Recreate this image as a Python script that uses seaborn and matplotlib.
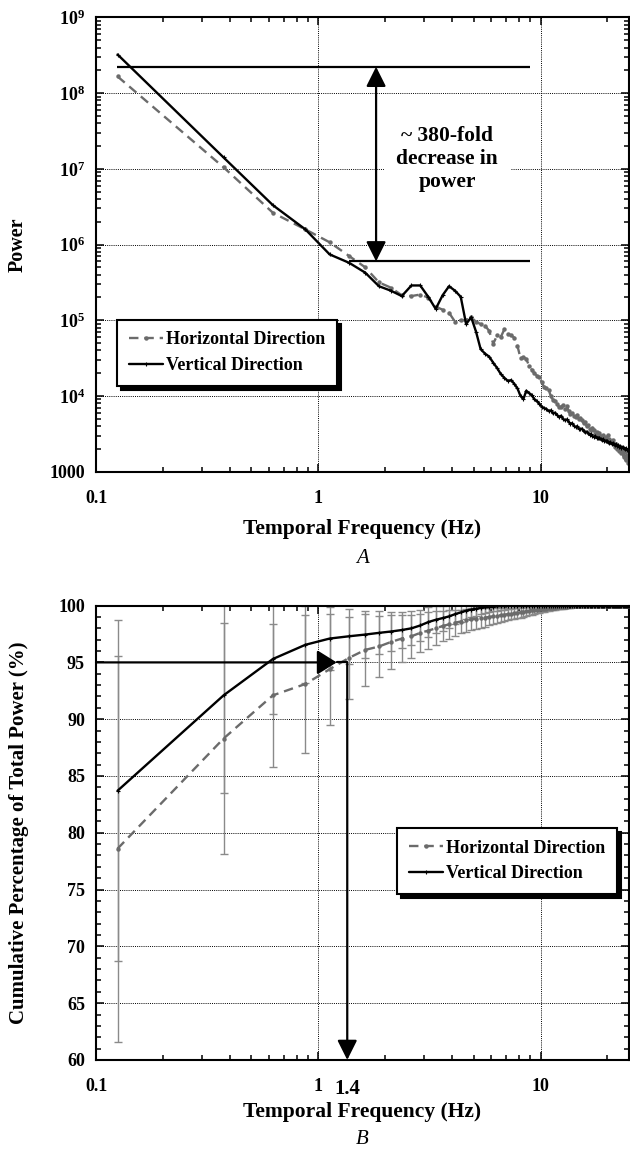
import matplotlib
matplotlib.use('Agg')
import matplotlib.pyplot as plt
import matplotlib.transforms as mtransforms
from matplotlib.ticker import LogLocator, MultipleLocator, FuncFormatter, NullFormatter, FixedLocator
import seaborn as sns
import numpy as np

# frequency bins (Hz), 0.25 Hz spacing
freq_hz = [0.125, 0.375, 0.625, 0.875, 1.125, 1.375, 1.625, 1.875, 2.125, 2.375,
           2.625, 2.875, 3.125, 3.375, 3.625, 3.875, 4.125, 4.375, 4.625, 4.875,
           5.125, 5.375, 5.625, 5.875, 6.125, 6.375, 6.625, 6.875, 7.125, 7.375,
           7.625, 7.875, 8.125, 8.375, 8.625, 8.875, 9.125, 9.375, 9.625, 9.875,
           10.125, 10.375, 10.625, 10.875, 11.125, 11.375, 11.625, 11.875, 12.125, 12.375,
           12.625, 12.875, 13.125, 13.375, 13.625, 13.875, 14.125, 14.375, 14.625, 14.875,
           15.125, 15.375, 15.625, 15.875, 16.125, 16.375, 16.625, 16.875, 17.125, 17.375,
           17.625, 17.875, 18.125, 18.375, 18.625, 18.875, 19.125, 19.375, 19.625, 19.875,
           20.125, 20.375, 20.625, 20.875, 21.125, 21.375, 21.625, 21.875, 22.125, 22.375,
           22.625, 22.875, 23.125, 23.375, 23.625, 23.875, 24.125, 24.375, 24.625, 24.875]

# log10 of power
log_power_horiz = [8.22, 7.02, 6.42, 6.20, 6.03, 5.85, 5.70, 5.50, 5.43, 5.33,
                   5.32, 5.34, 5.30, 5.18, 5.14, 5.10, 4.98, 5.00, 5.00, 5.04,
                   4.98, 4.95, 4.93, 4.86, 4.69, 4.80, 4.78, 4.88, 4.82, 4.80,
                   4.77, 4.66, 4.50, 4.51, 4.49, 4.40, 4.35, 4.30, 4.27, 4.25,
                   4.18, 4.12, 4.10, 4.08, 4.00, 3.95, 3.94, 3.90, 3.85, 3.86,
                   3.88, 3.83, 3.87, 3.80, 3.76, 3.78, 3.74, 3.72, 3.75, 3.70,
                   3.71, 3.68, 3.64, 3.66, 3.60, 3.62, 3.57, 3.55, 3.58, 3.55,
                   3.50, 3.53, 3.48, 3.51, 3.47, 3.45, 3.49, 3.44, 3.46, 3.42,
                   3.48, 3.43, 3.40, 3.38, 3.42, 3.36, 3.33, 3.37, 3.30, 3.34,
                   3.28, 3.31, 3.25, 3.29, 3.20, 3.26, 3.15, 3.22, 3.12, 3.18]
log_power_vert = [8.51, 7.15, 6.52, 6.20, 5.87, 5.76, 5.63, 5.45, 5.39, 5.32,
                  5.46, 5.46, 5.31, 5.15, 5.33, 5.45, 5.39, 5.31, 4.95, 5.04,
                  4.85, 4.62, 4.56, 4.52, 4.44, 4.37, 4.29, 4.24, 4.20, 4.21,
                  4.16, 4.10, 4.00, 3.96, 4.07, 4.04, 4.01, 3.96, 3.93, 3.90,
                  3.86, 3.84, 3.83, 3.80, 3.81, 3.77, 3.78, 3.75, 3.72, 3.74,
                  3.70, 3.68, 3.69, 3.66, 3.63, 3.64, 3.61, 3.59, 3.60, 3.57,
                  3.56, 3.57, 3.54, 3.52, 3.53, 3.51, 3.49, 3.50, 3.47, 3.46,
                  3.47, 3.45, 3.44, 3.45, 3.43, 3.42, 3.43, 3.41, 3.40, 3.41,
                  3.39, 3.38, 3.39, 3.37, 3.38, 3.36, 3.35, 3.36, 3.34, 3.35,
                  3.33, 3.34, 3.32, 3.33, 3.31, 3.30, 3.31, 3.29, 3.30, 3.28]

# cumulative % of total power, panel B
cum_horiz = [78.6, 88.3, 92.1, 93.1, 94.4, 95.4, 96.1, 96.4, 96.8, 97.1,
             97.3, 97.6, 97.8, 98.0, 98.2, 98.35, 98.5, 98.6, 98.7, 98.8,
             98.85, 98.9, 98.95, 99.0, 99.05, 99.1, 99.15, 99.2, 99.25, 99.3,
             99.33, 99.37, 99.4, 99.45, 99.5, 99.53, 99.57, 99.6, 99.63, 99.66,
             99.69, 99.72, 99.74, 99.77, 99.79, 99.81, 99.83, 99.85, 99.87, 99.88,
             99.9, 99.91, 99.92, 99.93, 99.94, 99.95, 99.96, 99.97, 99.97, 99.98,
             99.98, 99.99, 99.99, 100.0, 100.0, 100.0, 100.0, 100.0, 100.0, 100.0,
             100.0, 100.0, 100.0, 100.0, 100.0, 100.0, 100.0, 100.0, 100.0, 100.0,
             100.0, 100.0, 100.0, 100.0, 100.0, 100.0, 100.0, 100.0, 100.0, 100.0,
             100.0, 100.0, 100.0, 100.0, 100.0, 100.0, 100.0, 100.0, 100.0, 100.0]
cum_vert = [83.7, 92.1, 95.3, 96.55, 97.1, 97.3, 97.45, 97.6, 97.72, 97.85,
            98.0, 98.25, 98.55, 98.75, 98.9, 99.05, 99.25, 99.4, 99.55, 99.65,
            99.72, 99.8, 99.85, 99.88, 99.91, 99.93, 99.95, 99.96, 99.97, 99.98,
            99.98, 99.99, 99.99, 100.0, 100.0, 100.0, 100.0, 100.0, 100.0, 100.0,
            100.0, 100.0, 100.0, 100.0, 100.0, 100.0, 100.0, 100.0, 100.0, 100.0,
            100.0, 100.0, 100.0, 100.0, 100.0, 100.0, 100.0, 100.0, 100.0, 100.0,
            100.0, 100.0, 100.0, 100.0, 100.0, 100.0, 100.0, 100.0, 100.0, 100.0,
            100.0, 100.0, 100.0, 100.0, 100.0, 100.0, 100.0, 100.0, 100.0, 100.0,
            100.0, 100.0, 100.0, 100.0, 100.0, 100.0, 100.0, 100.0, 100.0, 100.0,
            100.0, 100.0, 100.0, 100.0, 100.0, 100.0, 100.0, 100.0, 100.0, 100.0]
err_horiz = [17.0, 10.2, 6.3, 6.1, 4.9, 3.6, 3.2, 2.7, 2.4, 2.1,
             1.9, 1.7, 1.6, 1.5, 1.35, 1.25, 1.15, 1.05, 1.0, 0.95,
             0.9, 0.85, 0.8, 0.75, 0.7, 0.65, 0.6, 0.58, 0.55, 0.52,
             0.5, 0.47, 0.45, 0.42, 0.4, 0.38, 0.36, 0.34, 0.32, 0.3,
             0.28, 0.27, 0.25, 0.24, 0.22, 0.21, 0.2, 0.19, 0.18, 0.17,
             0.16, 0.15, 0.14, 0.13, 0.12, 0.11, 0.1, 0.1, 0.09, 0.09,
             0.08, 0.08, 0.07, 0.07, 0.06, 0.06, 0.05, 0.05, 0.05, 0.04,
             0.04, 0.04, 0.03, 0.03, 0.03, 0.03, 0.02, 0.02, 0.02, 0.02,
             0.02, 0.01, 0.01, 0.01, 0.01, 0.01, 0.01, 0.01, 0.01, 0.01,
             0.0, 0.0, 0.0, 0.0, 0.0, 0.0, 0.0, 0.0, 0.0, 0.0]
err_vert = [15.0, 8.6, 4.8, 3.4, 2.8, 2.4, 2.1, 1.9, 1.7, 1.6,
            1.5, 1.4, 1.3, 1.2, 1.1, 1.0, 0.9, 0.8, 0.7, 0.65,
            0.6, 0.55, 0.5, 0.45, 0.4, 0.37, 0.34, 0.31, 0.28, 0.25,
            0.22, 0.2, 0.18, 0.16, 0.14, 0.12, 0.1, 0.09, 0.08, 0.07,
            0.06, 0.05, 0.05, 0.04, 0.04, 0.03, 0.03, 0.02, 0.02, 0.02,
            0.01, 0.01, 0.01, 0.01, 0.01, 0.0, 0.0, 0.0, 0.0, 0.0,
            0.0, 0.0, 0.0, 0.0, 0.0, 0.0, 0.0, 0.0, 0.0, 0.0,
            0.0, 0.0, 0.0, 0.0, 0.0, 0.0, 0.0, 0.0, 0.0, 0.0,
            0.0, 0.0, 0.0, 0.0, 0.0, 0.0, 0.0, 0.0, 0.0, 0.0,
            0.0, 0.0, 0.0, 0.0, 0.0, 0.0, 0.0, 0.0, 0.0, 0.0]

series_labels = ['Horizontal Direction', 'Vertical Direction']

# annotation values
fold_high = 2.23e8
fold_low = 6.0e5
fold_text = '~ 380-fold\ndecrease in\npower'
pct_threshold = 95
cutoff_hz = 1.35
cutoff_label = '1.4'

GREY = '#6b6b6b'
ERR_GREY = '#8a8a8a'

sns.set_theme(style='white')
plt.rcParams['font.family'] = ['Liberation Serif', 'DejaVu Serif']
plt.rcParams['font.weight'] = 'bold'
plt.rcParams['axes.labelweight'] = 'bold'
plt.rcParams['text.color'] = 'black'
plt.rcParams['axes.labelcolor'] = 'black'
plt.rcParams['mathtext.fontset'] = 'custom'
plt.rcParams['mathtext.rm'] = 'Liberation Serif:bold'
plt.rcParams['mathtext.it'] = 'Liberation Serif:italic:bold'
plt.rcParams['mathtext.bf'] = 'Liberation Serif:bold'
plt.rcParams['mathtext.default'] = 'rm'

freq = np.array(freq_hz)
power_h = 10 ** np.array(log_power_horiz)
power_v = 10 ** np.array(log_power_vert)

fig = plt.figure(figsize=(6.3, 11.52), dpi=100)
ax1 = fig.add_axes([0.1524, 0.5905, 0.8460, 0.3944])
ax2 = fig.add_axes([0.1524, 0.0799, 0.8460, 0.3944])

h_style = dict(color=GREY, linestyle=(0, (4, 2.5)), linewidth=1.7,
               marker='o', markersize=3.2, markeredgewidth=0,
               markeredgecolor=GREY, markerfacecolor=GREY)
v_style = dict(color='black', linestyle='-', linewidth=1.7,
               marker='+', markersize=3, markeredgewidth=0.8,
               markeredgecolor='black')


def style_axes(ax):
    for sp in ax.spines.values():
        sp.set_color('black')
        sp.set_linewidth(1.5)
    ax.tick_params(which='both', direction='in', top=True, right=True,
                   bottom=True, left=True, colors='black', width=1.1)
    ax.tick_params(which='major', length=6, labelsize=13)
    ax.tick_params(which='minor', length=3.5)
    ax.tick_params(axis='x', which='major', pad=13)
    ax.tick_params(axis='y', which='major', pad=8)
    ax.grid(True, which='major', color='black', linestyle=(0, (1, 1.2)), linewidth=0.7)
    ax.set_axisbelow(True)


def add_legend(ax, anchor):
    leg = ax.legend(loc='upper left', bbox_to_anchor=anchor, borderaxespad=0,
                    fontsize=13, frameon=True, fancybox=False, framealpha=1,
                    handlelength=1.9, handletextpad=0.15, borderpad=0.65,
                    labelspacing=0.48,
                    shadow={'ox': 3, 'oy': -3, 'color': 'black', 'alpha': 1})
    leg.get_frame().set_edgecolor('black')
    leg.get_frame().set_linewidth(1.5)
    return leg


def pow_fmt(v, pos):
    e = int(round(np.log10(v)))
    return '1000' if e == 3 else r'$10^{%d}$' % e


# ---------------- Panel A ----------------
sns.lineplot(x=freq, y=power_h, ax=ax1, label=series_labels[0], **h_style)
sns.lineplot(x=freq, y=power_v, ax=ax1, label=series_labels[1], **v_style)
ax1.set_xscale('log')
ax1.set_yscale('log')
ax1.set_xlim(0.1, 25)
ax1.set_ylim(1e3, 1e9)
ax1.xaxis.set_major_locator(FixedLocator([0.1, 1, 10]))
ax1.xaxis.set_major_formatter(FuncFormatter(lambda v, p: f'{v:g}'))
ax1.xaxis.set_minor_locator(LogLocator(base=10, subs=np.arange(2, 10), numticks=20))
ax1.xaxis.set_minor_formatter(NullFormatter())
ax1.yaxis.set_major_locator(LogLocator(base=10, numticks=10))
ax1.yaxis.set_major_formatter(FuncFormatter(pow_fmt))
ax1.yaxis.set_minor_locator(LogLocator(base=10, subs=np.arange(2, 10), numticks=20))
ax1.yaxis.set_minor_formatter(NullFormatter())
style_axes(ax1)

ax1.hlines(fold_high, 0.124, 9.0, color='black', linewidth=1.6, zorder=4)
ax1.hlines(fold_low, 1.37, 9.0, color='black', linewidth=1.6, zorder=4)
ax1.annotate('', xy=(1.82, fold_high), xytext=(1.82, fold_low),
             arrowprops=dict(arrowstyle='<|-|>,head_length=0.4,head_width=0.2',
                             mutation_scale=30, lw=1.6, color='black',
                             shrinkA=0, shrinkB=0), zorder=6)
ax1.text(3.8, 1.35e7, fold_text, ha='center', va='center', fontsize=15.5,
         linespacing=1.2, zorder=5,
         bbox=dict(facecolor='white', edgecolor='none', pad=9))

ax1.set_xlabel('Temporal Frequency (Hz)', fontsize=15.5)
ax1.xaxis.set_label_coords(0.5, -0.105)
ax1.set_ylabel('Power', fontsize=14.5)
ax1.yaxis.set_label_coords(-0.128, 0.5)
ax1.text(0.5, -0.19, 'A', transform=ax1.transAxes, ha='center', va='center',
         fontsize=15, fontstyle='italic', fontweight='normal')
add_legend(ax1, (0.039, 0.335))

# ---------------- Panel B ----------------
ax2.errorbar(freq, cum_horiz, yerr=err_horiz, fmt='none', ecolor=ERR_GREY,
             elinewidth=1.0, capsize=3, capthick=1.0, zorder=2)
ax2.errorbar(freq, cum_vert, yerr=err_vert, fmt='none', ecolor=ERR_GREY,
             elinewidth=1.0, capsize=3, capthick=1.0, zorder=2)
sns.lineplot(x=freq, y=cum_horiz, ax=ax2, label=series_labels[0], zorder=3, **h_style)
sns.lineplot(x=freq, y=cum_vert, ax=ax2, label=series_labels[1], zorder=3, **v_style)
ax2.set_xscale('log')
ax2.set_xlim(0.1, 25)
ax2.set_ylim(60, 100)
ax2.xaxis.set_major_locator(FixedLocator([0.1, 1, 10]))
ax2.xaxis.set_major_formatter(FuncFormatter(lambda v, p: f'{v:g}'))
ax2.xaxis.set_minor_locator(LogLocator(base=10, subs=np.arange(2, 10), numticks=20))
ax2.xaxis.set_minor_formatter(NullFormatter())
ax2.yaxis.set_major_locator(MultipleLocator(5))
ax2.yaxis.set_minor_locator(MultipleLocator(1))
style_axes(ax2)

ax2.annotate('', xy=(1.21, pct_threshold), xytext=(0.1, pct_threshold),
             arrowprops=dict(arrowstyle='-|>,head_length=0.4,head_width=0.25',
                             mutation_scale=30, lw=1.6, color='black',
                             shrinkA=0, shrinkB=0), zorder=6)
ax2.plot([1.21, cutoff_hz], [pct_threshold, pct_threshold], color='black', lw=1.6, zorder=6)
ax2.annotate('', xy=(cutoff_hz, 60), xytext=(cutoff_hz, pct_threshold),
             arrowprops=dict(arrowstyle='-|>,head_length=0.4,head_width=0.2',
                             mutation_scale=30, lw=1.6, color='black',
                             shrinkA=0, shrinkB=0), zorder=6)
trans = mtransforms.blended_transform_factory(ax2.transData, ax2.transAxes)
ax2.text(cutoff_hz, -0.064, cutoff_label, transform=trans, ha='center', va='center',
         fontsize=15)

ax2.set_xlabel('Temporal Frequency (Hz)', fontsize=15.5)
ax2.xaxis.set_label_coords(0.5, -0.092)
ax2.set_ylabel('Cumulative Percentage of Total Power (%)', fontsize=15)
ax2.yaxis.set_label_coords(-0.125, 0.5)
ax2.text(0.5, -0.174, 'B', transform=ax2.transAxes, ha='center', va='center',
         fontsize=15, fontstyle='italic', fontweight='normal')
add_legend(ax2, (0.565, 0.511))

fig.savefig('out.png', dpi=100)
